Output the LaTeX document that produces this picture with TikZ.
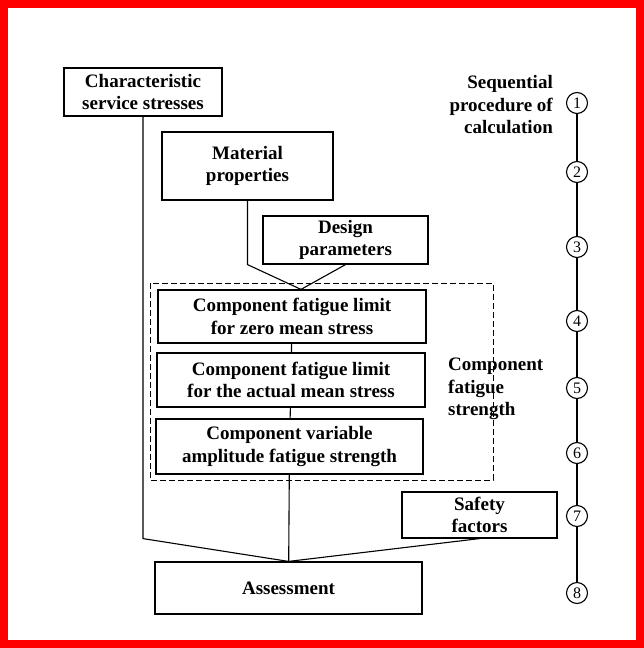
\documentclass[tikz,border=0pt]{standalone}
\usepackage{fontspec}
\setmainfont{Liberation Serif}
\usepackage{tikz}
\usetikzlibrary{positioning}
\definecolor{rojoMarco}{RGB}{255, 0, 0}

\begin{document}
\begin{tikzpicture}[x=1pt, y=-1pt,
            caja/.style={rectangle, draw, line width=1.2pt, align=center, inner sep=0pt, font=\bfseries\fontsize{19}{22.5}\selectfont},
            etiqueta/.style={align=left, inner sep=0pt, font=\bfseries\fontsize{19}{22.5}\selectfont},
            linea/.style={line width=1.1pt},
            circulo/.style={circle, draw, line width=1.1pt, minimum size=21pt, inner sep=0pt, font=\fontsize{16}{16}\selectfont},
            grupo/.style={draw, dashed, line width=0.9pt, dash pattern=on 6pt off 3pt}]

            \fill[white] (0,0) rectangle (644,648);
            \draw[rojoMarco, line width=8pt] (4,4) rectangle (640,644);

            \node[caja, minimum width=158pt, minimum height=48pt] (serv) at (143,92) {Characteristic\\service stresses};
            \node[caja, minimum width=171pt, minimum height=68pt] (mat) at (247.5,166) {Material\\properties};
            \node[caja, minimum width=165pt, minimum height=48pt] (des) at (345.5,240) {Design\\parameters};
            \node[caja, minimum width=268pt, minimum height=53pt] (cero) at (292,316.5) {Component fatigue limit\\for zero mean stress};
            \node[caja, minimum width=268pt, minimum height=54pt] (real) at (291,380) {Component fatigue limit\\for the actual mean stress};
            \node[caja, minimum width=267pt, minimum height=55pt] (var) at (289.5,446.5) {Component variable\\amplitude fatigue strength};
            \node[caja, minimum width=155pt, minimum height=46pt] (seg) at (479.5,515) {Safety\\factors};
            \node[caja, minimum width=267pt, minimum height=52pt] (eval) at (288.5,588) {Assessment};

            \draw[grupo] (150,283) rectangle (493,480);
            \node[etiqueta, anchor=west] (resist) at (448,389) {Component\\fatigue\\strength};
            \node[etiqueta, anchor=east, align=right] (secu) at (553,105) {Sequential\\procedure of\\calculation};

            % conexiones
            \draw[linea] (serv.south) -- (serv.south |- seg.south) -- (eval.north);
            \draw[linea] (mat.south) -- (mat.south |- des.south) -- ([xshift=9pt]cero.north);
            \draw[linea] (des.south) -- ([xshift=9pt]cero.north);
            \draw[linea] (cero) -- (real);
            \draw[linea] (real) -- (var);
            \draw[linea] (var) -- (eval);
            \draw[linea] (seg.south) -- (eval.north);

            % pasos
            \foreach \n/\y in {1/103, 2/172, 3/247, 4/321, 5/388, 6/453, 7/516, 8/593}
                \node[circulo] (p\n) at (577,\y) {\n};
            \foreach \a/\b in {1/2, 2/3, 3/4, 4/5, 5/6, 6/7, 7/8}
                \draw[linea] (p\a) -- (p\b);
        \end{tikzpicture}
\end{document}
